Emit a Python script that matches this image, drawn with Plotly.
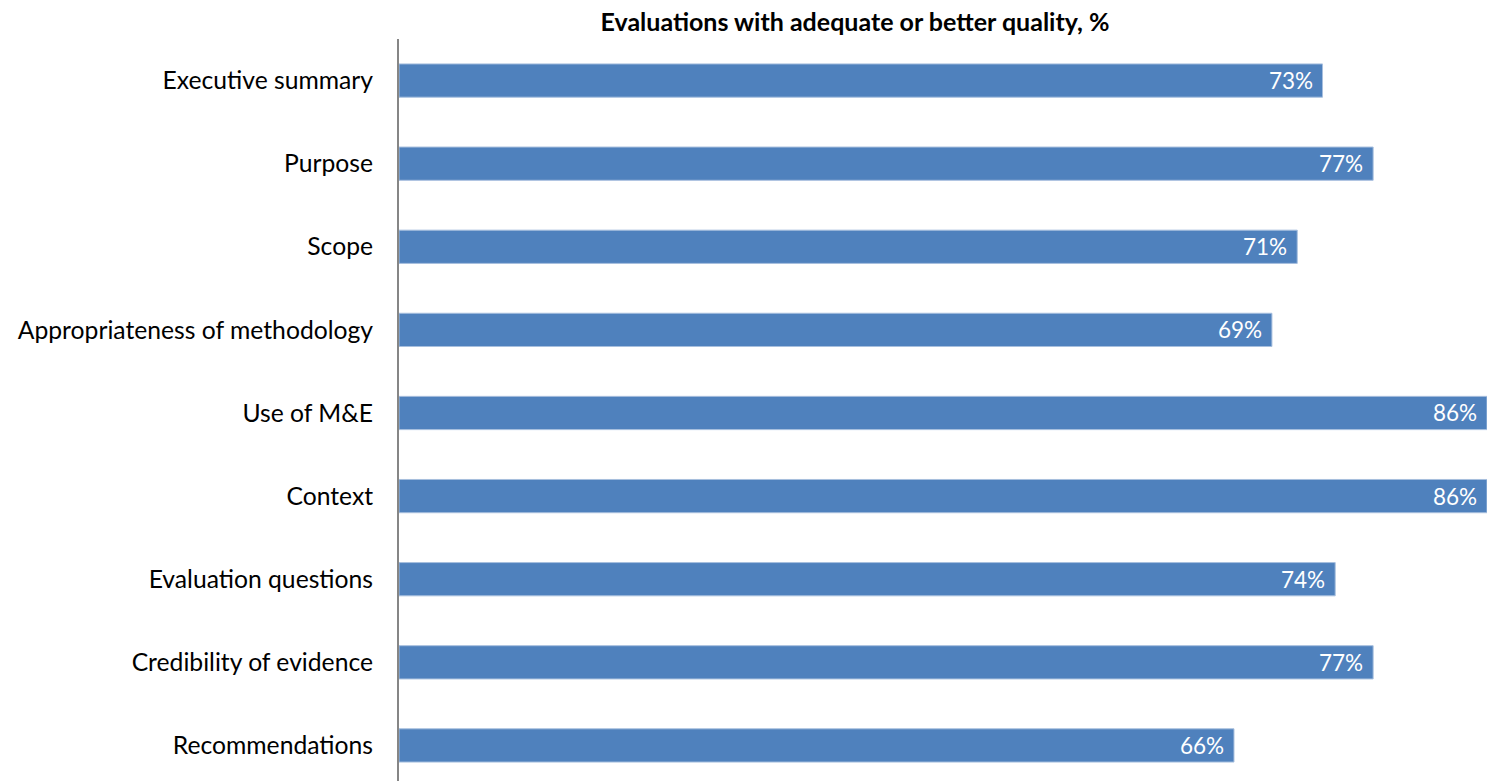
import plotly.graph_objects as go

# Share of evaluations rated adequate or better, by quality criterion
categories = [
    "Executive summary",
    "Purpose",
    "Scope",
    "Appropriateness of methodology",
    "Use of M&E",
    "Context",
    "Evaluation questions",
    "Credibility of evidence",
    "Recommendations",
]
values = [73, 77, 71, 69, 86, 86, 74, 77, 66]
value_labels = [f"{v}%" for v in values]

title_text = "<b>Evaluations with adequate or better quality, %</b>"

BAR_COLOR = "#4F81BD"
FONT = "Lato"

fig = go.Figure(
    go.Bar(
        x=values,
        y=categories,
        orientation="h",
        width=0.4,
        marker=dict(color=BAR_COLOR, line=dict(color="#A7BFDE", width=1)),
        hoverinfo="skip",
    )
)

# value labels just inside the end of each bar
for cat, v, lab in zip(categories, values, value_labels):
    fig.add_annotation(
        x=v,
        y=cat,
        xref="x",
        yref="y",
        text=lab,
        showarrow=False,
        xanchor="right",
        yanchor="middle",
        xshift=-8,
        font=dict(family=FONT, size=22.5, color="white"),
    )

fig.update_layout(
    width=1487,
    height=781,
    margin=dict(l=399, r=0, t=39, b=0),
    paper_bgcolor="white",
    plot_bgcolor="white",
    showlegend=False,
    font=dict(family=FONT, size=22, color="#000000"),
    title=dict(
        text=title_text,
        x=855 / 1487,
        xanchor="center",
        xref="container",
        y=1 - 22 / 781,
        yanchor="middle",
        yref="container",
        font=dict(family=FONT, size=25, color="#000000"),
    ),
    xaxis=dict(
        range=[0, 86],
        visible=False,
        showgrid=False,
        zeroline=False,
    ),
    yaxis=dict(
        categoryorder="array",
        categoryarray=categories,
        range=[8.428, -0.5],
        showgrid=False,
        zeroline=False,
        showline=True,
        linecolor="#868686",
        linewidth=2,
        ticks="",
        ticklabelstandoff=19,
        tickfont=dict(family=FONT, size=24.7, color="#000000"),
    ),
)

fig.write_html("out.html")
